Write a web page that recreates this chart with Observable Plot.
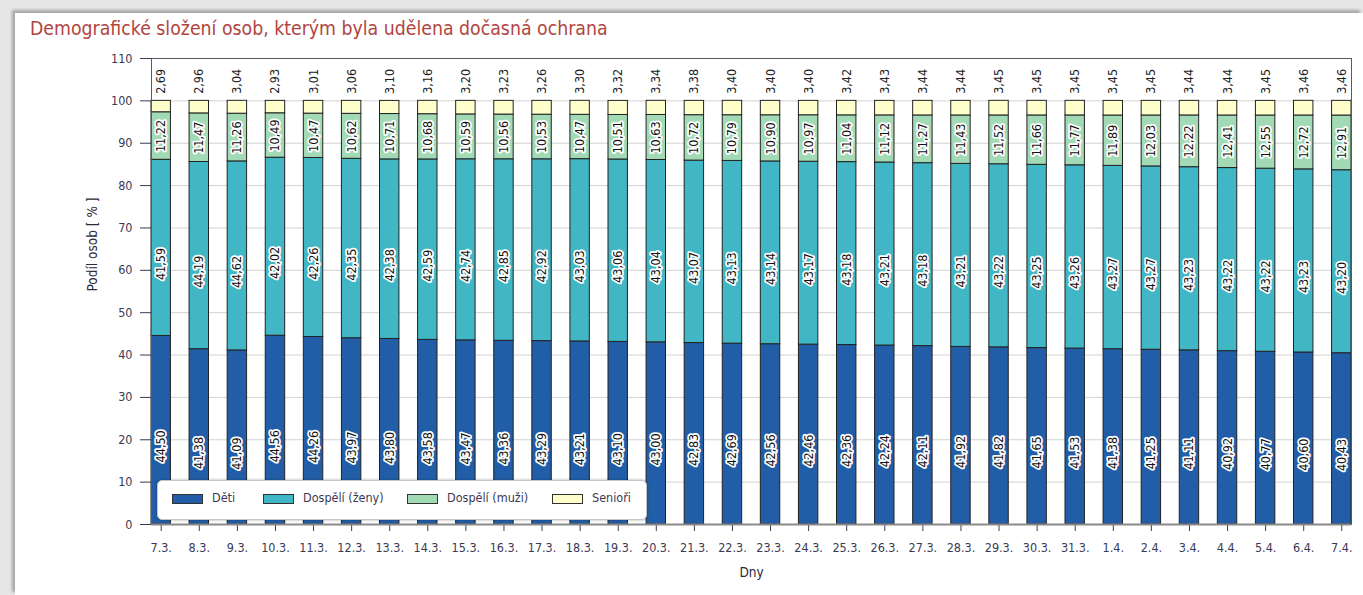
<!DOCTYPE html>
<html><head><meta charset="utf-8">
<script src="https://cdn.jsdelivr.net/npm/d3@7"></script>
<script src="https://cdn.jsdelivr.net/npm/@observablehq/plot@0.6"></script>
<style>
html,body{margin:0;padding:0;width:1363px;height:595px;overflow:hidden;background:#e6e6e6;}
body{font-family:'DejaVu Sans Condensed','Liberation Sans Narrow','DejaVu Sans',sans-serif;font-stretch:condensed;}
#card{position:absolute;left:15px;top:13px;width:1348px;height:582px;background:#fff;box-shadow:-3px -3px 3px rgba(0,0,0,0.28);}
#title{position:absolute;left:30px;top:17px;font-size:19.3px;color:#b2443f;white-space:nowrap;}
#chart{position:absolute;left:0;top:0;}
#legend{position:absolute;left:157px;top:480px;width:488px;height:38px;background:#fff;border:1px solid #c4c4c4;border-radius:5px;box-shadow:0 0 3px rgba(0,0,0,0.35);}
.sw{position:absolute;top:13px;width:29px;height:8px;border:1px solid #333;}
.lb{position:absolute;top:10px;font-size:12.5px;line-height:14px;color:#3a3a56;white-space:nowrap;}
</style>
</head><body>
<div id="card"></div>
<div id="title">Demografické složení osob, kterým byla udělena dočasná ochrana</div>
<div id="chart"></div>
<div id="legend"></div>
<script>
const dates = ["7.3.","8.3.","9.3.","10.3.","11.3.","12.3.","13.3.","14.3.","15.3.","16.3.","17.3.","18.3.","19.3.","20.3.","21.3.","22.3.","23.3.","24.3.","25.3.","26.3.","27.3.","28.3.","29.3.","30.3.","31.3.","1.4.","2.4.","3.4.","4.4.","5.4.","6.4.","7.4."];
const categories = ["Děti","Dospělí (ženy)","Dospělí (muži)","Senioři"];
const colors = ["#225ea8","#41b6c4","#a1dab4","#ffffcc"];
const deti = [44.50,41.38,41.09,44.56,44.26,43.97,43.80,43.58,43.47,43.36,43.29,43.21,43.10,43.00,42.83,42.69,42.56,42.46,42.36,42.24,42.11,41.92,41.82,41.65,41.53,41.38,41.25,41.11,40.92,40.77,40.60,40.43];
const zeny = [41.59,44.19,44.62,42.02,42.26,42.35,42.38,42.59,42.74,42.85,42.92,43.03,43.06,43.04,43.07,43.13,43.14,43.17,43.18,43.21,43.18,43.21,43.22,43.25,43.26,43.27,43.27,43.23,43.22,43.22,43.23,43.20];
const muzi = [11.22,11.47,11.26,10.49,10.47,10.62,10.71,10.68,10.59,10.56,10.53,10.47,10.51,10.63,10.72,10.79,10.90,10.97,11.04,11.12,11.27,11.43,11.52,11.66,11.77,11.89,12.03,12.22,12.41,12.55,12.72,12.91];
const seniori = [2.69,2.96,3.04,2.93,3.01,3.06,3.10,3.16,3.20,3.23,3.26,3.30,3.32,3.34,3.38,3.40,3.40,3.40,3.42,3.43,3.44,3.44,3.45,3.45,3.45,3.45,3.45,3.44,3.44,3.45,3.46,3.46];
const yTicks = [0,10,20,30,40,50,60,70,80,90,100,110];
const yLabel = "Podíl osob [ % ]";
const xLabel = "Dny";

const series = [deti, zeny, muzi, seniori];
const data = [];
dates.forEach((d, i) => series.forEach((s, j) => data.push({date: d, cat: categories[j], value: s[i]})));
const fmt = v => v.toFixed(2).replace(".", ",");
const font = "'DejaVu Sans Condensed','Liberation Sans Narrow','DejaVu Sans',sans-serif";

const halo = {x: "date", y: "value", z: "cat", order: categories, rotate: -90, fontSize: 12.5, fill: "#111",
  stroke: "white", strokeWidth: 3.5, paintOrder: "stroke", strokeLinejoin: "round"};

const chart = Plot.plot({
  width: 1363, height: 595,
  marginTop: 58, marginBottom: 71, marginLeft: 151, marginRight: 12,
  style: {background: "transparent", fontFamily: font, fontSize: "12.5px", color: "#3a3a56", overflow: "visible"},
  x: {type: "band", domain: dates, paddingInner: 0.49, paddingOuter: 0, round: false,
      tickSize: 7, tickPadding: 12, label: null},
  y: {domain: [0, 110], ticks: yTicks, tickSize: 11, tickPadding: 8, tickFormat: d => d, label: null},
  color: {domain: categories, range: colors},
  marks: [
    Plot.ruleY(yTicks.slice(1, -1), {stroke: "#d2d2d2"}),
    Plot.barY(data, {x: "date", y: "value", z: "cat", fill: "cat", order: categories, stroke: "#222", strokeWidth: 1}),
    Plot.text(data, Plot.stackY({...halo, textAnchor: "end",
      text: d => (d.cat === categories[0] || d.cat === categories[1]) ? fmt(d.value) : ""})),
    Plot.text(data, Plot.stackY({...halo, textAnchor: "middle",
      text: d => d.cat === categories[2] ? fmt(d.value) : ""})),
    Plot.text(data, Plot.stackY2({x: "date", y: "value", z: "cat", order: categories, rotate: -90, fontSize: 12.5,
      fill: "#222", textAnchor: "start", dy: -7,
      text: d => d.cat === categories[3] ? fmt(d.value) : ""})),
    Plot.frame({stroke: "#5a5a5a"}),
    Plot.ruleY([0], {stroke: "#8a8a8a", strokeWidth: 2}),
    Plot.text([yLabel], {frameAnchor: "left", rotate: -90, dx: -59, text: d => d, fontSize: 13.5, fill: "#2a2a3a"}),
    Plot.text([xLabel], {frameAnchor: "bottom", dy: 52, text: d => d, fontSize: 13.5, fill: "#2a2a3a"})
  ]
});
document.getElementById("chart").appendChild(chart);

const legend = document.getElementById("legend");
const swX = [14, 105, 249, 394];
categories.forEach((c, i) => {
  const sw = document.createElement("div");
  sw.className = "sw"; sw.style.left = swX[i] + "px"; sw.style.background = colors[i];
  legend.appendChild(sw);
  const lb = document.createElement("div");
  lb.className = "lb"; lb.style.left = (swX[i] + 40) + "px"; lb.textContent = c;
  legend.appendChild(lb);
});
</script>
</body></html>
